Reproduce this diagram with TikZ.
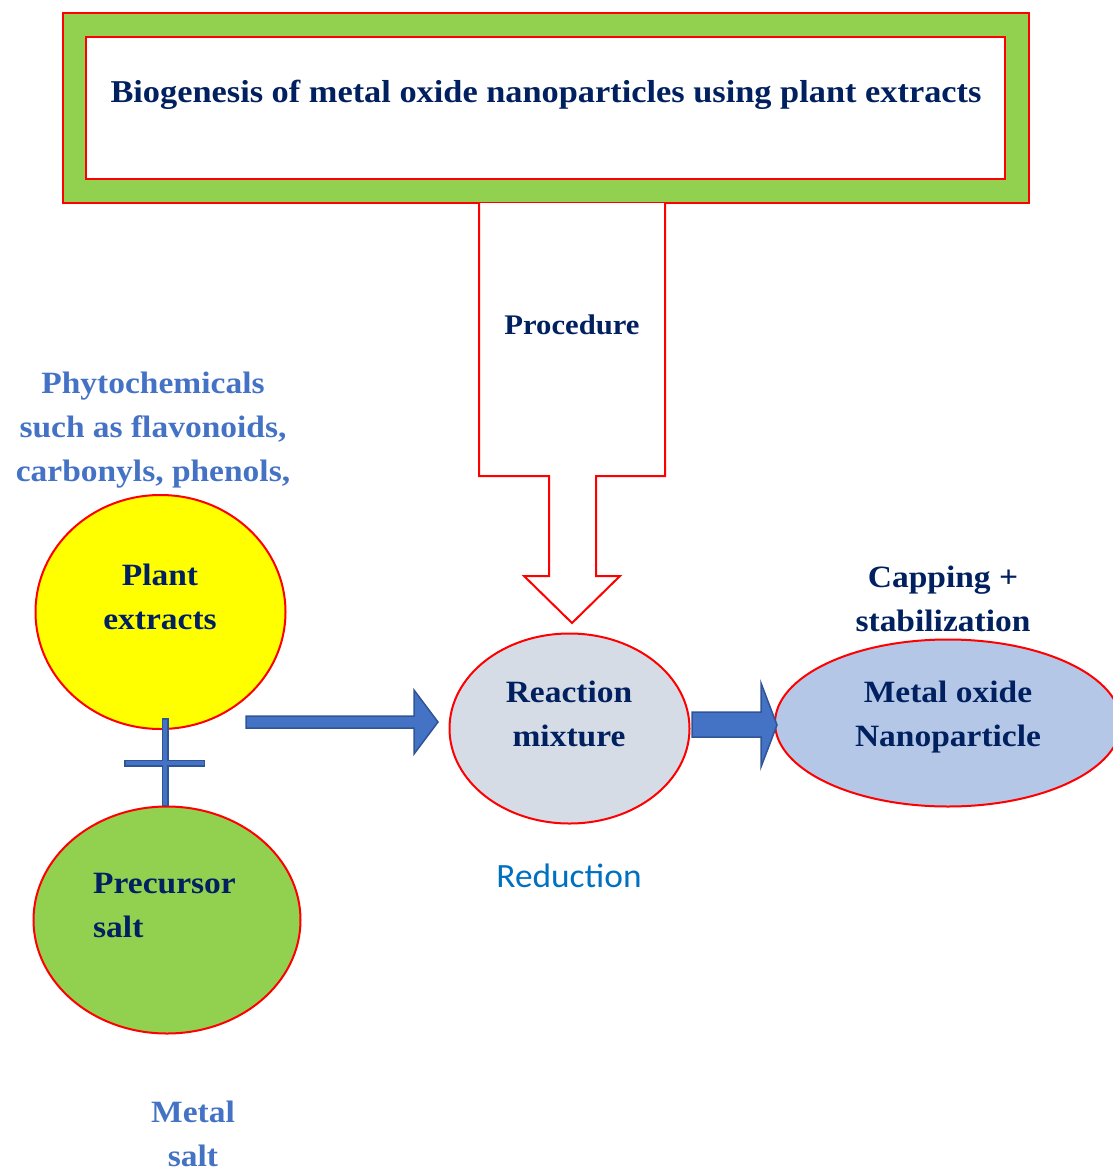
\documentclass[tikz,border=0pt]{standalone}
\usepackage{fontspec}
\setmainfont[FakeStretch=1.08]{Liberation Serif}
\newfontfamily\redfont[FakeStretch=1.04]{Carlito}
\usetikzlibrary{shapes.geometric}
\definecolor{navy}{HTML}{002060}
\definecolor{lblue}{HTML}{4472C4}
\definecolor{dblue}{HTML}{2F5597}
\definecolor{rblue}{HTML}{0070C0}
\definecolor{lgreen}{HTML}{92D050}
\definecolor{rgray}{HTML}{D6DCE5}
\definecolor{pblue}{HTML}{B4C7E7}
\definecolor{pyellow}{HTML}{FFFF00}
\begin{document}
\begin{tikzpicture}[x=1pt,y=-1pt,
  redline/.style={draw=red,line width=2pt},
  blob/.style={ellipse,redline,inner sep=0pt},
  lbl/.style={text=navy,font=\bfseries\fontsize{31}{44}\selectfont,align=center,inner sep=0pt},
  bluelbl/.style={text=lblue,font=\bfseries\fontsize{31}{44}\selectfont,align=center,inner sep=0pt},
  blockarrow/.style={fill=lblue,draw=dblue,line width=1.5pt,line join=miter}
]
\useasboundingbox (0,0) rectangle (1112,1167);

% title frame
\node (outer) [rectangle,redline,fill=lgreen,minimum width=966pt,minimum height=190pt,inner sep=0pt] at (546,108) {};
\node (inner) [rectangle,redline,fill=white,minimum width=919pt,minimum height=142pt,inner sep=0pt] at (545.5,108) {};
\node (titletext) [lbl,font=\bfseries\fontsize{31.8}{36}\selectfont] at (546,95) {Biogenesis of metal oxide nanoparticles using plant extracts};

% procedure arrow
\draw[redline,fill=white,line join=miter]
  (479,203) -- (479,476) -- (549,476) -- (549,576) -- (524,576) -- (572,623)
  -- (620,576) -- (596,576) -- (596,476) -- (665,476) -- (665,203);
\node (proc) [lbl,font=\bfseries\fontsize{28.4}{36}\selectfont] at (572,325) {Procedure};

% phytochemicals
\node (phyto) [bluelbl] at (153,430) {Phytochemicals\\such as flavonoids,\\carbonyls, phenols,};

% ellipses
\node (plant) [blob,fill=pyellow,minimum width=250pt,minimum height=234pt] at (160.5,612) {};
\node (planttext) [lbl] at (160,597) {Plant\\extracts};

\node (precursor) [blob,fill=lgreen,minimum width=267pt,minimum height=227pt] at (167,920) {};
\node (prectext) [lbl,align=left,anchor=west] at (93,905) {Precursor\\salt};

\node (reaction) [blob,fill=rgray,minimum width=240pt,minimum height=190pt] at (569.5,728.5) {};
\node (reactext) [lbl] at (569,714) {Reaction\\mixture};

\node (metal) [blob,fill=pblue,minimum width=346pt,minimum height=167pt] at (948,723) {};
\node (metaltext) [lbl] at (948,717) {Metal oxide\\Nanoparticle};

\node (capping) [lbl] at (943,599) {Capping +\\stabilization};

\node (reduction) [text=rblue,font=\redfont\fontsize{34}{36}\selectfont,inner sep=0pt] at (569,876) {Reduction};

\node (metalsalt) [bluelbl] at (193,1134) {Metal\\salt};

% plus sign
\coordinate (pv1) at (165,718);
\coordinate (pv2) at (165,806);
\coordinate (ph1) at (124,763);
\coordinate (ph2) at (205,763);
\draw[dblue,line width=7pt] (pv1) -- (pv2) (ph1) -- (ph2);
\draw[lblue,line width=3.5pt] (165,719.5) -- (165,804.5) (125.5,763) -- (203.5,763);

% block arrows
\draw[blockarrow] (246,716) -- (414,716) -- (414,690) -- (438,722) -- (414,754) -- (414,728) -- (246,728) -- cycle;
\draw[blockarrow] (692,712) -- (761,712) -- (761,683) -- (777,725) -- (761,767) -- (761,737) -- (692,737) -- cycle;
\end{tikzpicture}
\end{document}
